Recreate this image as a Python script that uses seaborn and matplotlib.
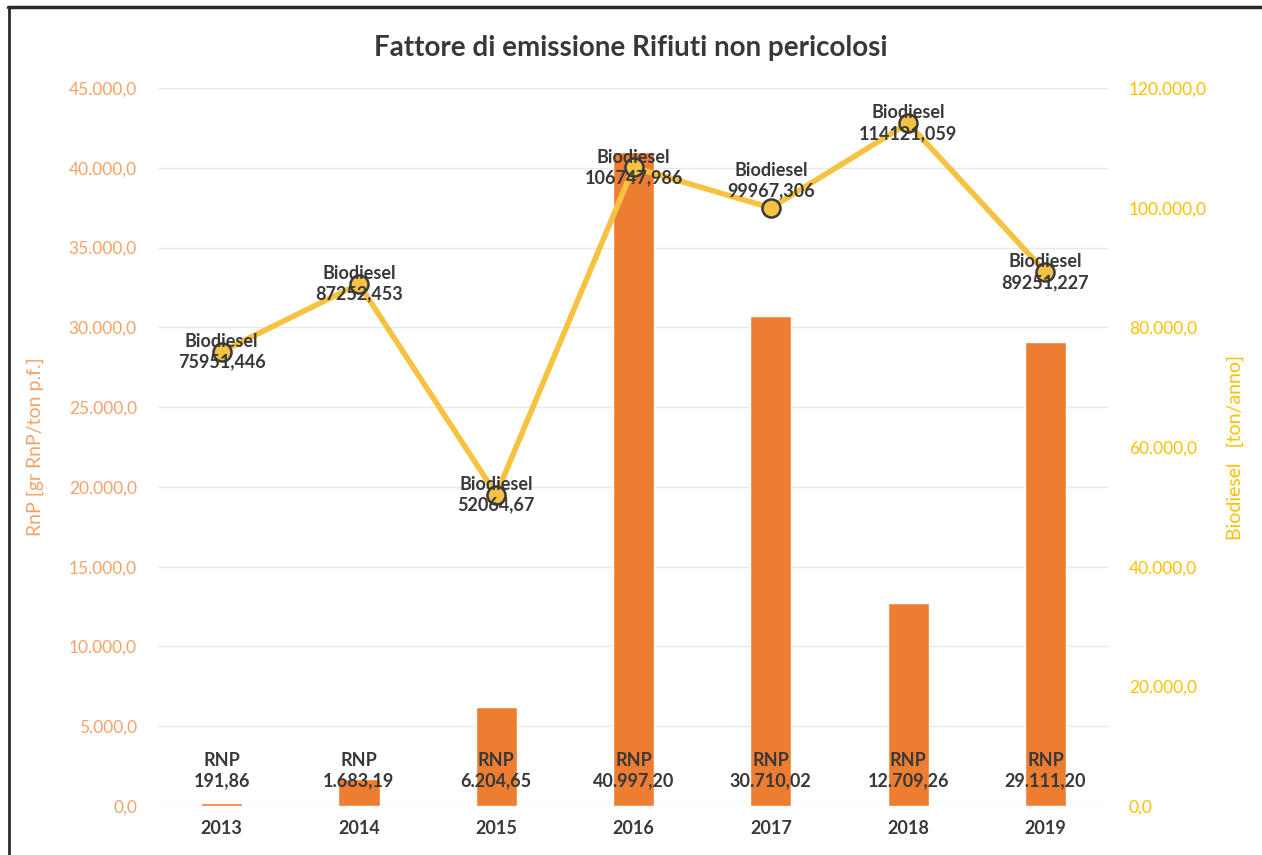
import numpy as np
import pandas as pd
import matplotlib
matplotlib.use("Agg")
import matplotlib.pyplot as plt
from matplotlib.lines import Line2D
from matplotlib.ticker import FuncFormatter, MultipleLocator
import seaborn as sns

anni = ["2013", "2014", "2015", "2016", "2017", "2018", "2019"]
rnp = [191.86, 1683.19, 6204.65, 40997.20, 30710.02, 12709.26, 29111.20]
biodiesel = [75951.446, 87252.453, 52064.67, 106747.986, 99967.306, 114121.059, 89251.227]

titolo = "Fattore di emissione Rifiuti non pericolosi"
etichetta_sx = "RnP [gr RnP/ton p.f.]"
etichetta_dx = "Biodiesel   [ton/anno]"

ARANCIO = "#ED7D31"
ARANCIO_TESTO = "#F4A268"
GIALLO = "#FFC000"
GIALLO_LINEA = "#F5C242"
GRIGIO = "#383838"

sns.set_theme(style="white")
plt.rcParams["font.family"] = ["Lato", "DejaVu Sans"]


def fmt_it(v, dec):
    s = f"{v:,.{dec}f}"
    return s.replace(",", "X").replace(".", ",").replace("X", ".")


df = pd.DataFrame({"anno": anni, "rnp": rnp, "biodiesel": biodiesel})

fig = plt.figure(figsize=(12.62, 8.55), dpi=100)
ax = fig.add_axes([0.125, 0.0573, 0.754, 0.8397])

sns.barplot(data=df, x="anno", y="rnp", color=ARANCIO, saturation=1,
            width=0.3, ax=ax, zorder=2)
ax.set_ylim(0, 45000)
ax.yaxis.set_major_locator(MultipleLocator(5000))
ax.yaxis.set_major_formatter(FuncFormatter(lambda v, p: fmt_it(v, 1)))
ax.grid(axis="y", color="#E8E8E8", linewidth=1.0, zorder=0)
ax.set_axisbelow(True)
for s in ax.spines.values():
    s.set_visible(False)
ax.tick_params(axis="y", colors=ARANCIO_TESTO, labelsize=12.5, length=0, pad=15)
ax.tick_params(axis="x", colors=GRIGIO, labelsize=13, length=0, pad=10)
for lab in ax.get_xticklabels():
    lab.set_fontweight("bold")
ax.set_xlabel("")
ax.set_ylabel(etichetta_sx, color=ARANCIO_TESTO, fontsize=14, labelpad=18)

for i, v in enumerate(rnp):
    ax.text(i, 2200, f"RNP\n{fmt_it(v, 2)}", ha="center", va="center",
            fontsize=13, fontweight="bold", color=GRIGIO, linespacing=1.25,
            zorder=5)

ax2 = ax.twinx()
pos = np.arange(len(anni))
sns.lineplot(x=pos, y=biodiesel, ax=ax2, color=GIALLO_LINEA, linewidth=4,
             marker="o", markersize=13, markerfacecolor=GIALLO_LINEA,
             markeredgecolor="#3a3a3a", markeredgewidth=1.8, zorder=3)
ax2.set_ylim(0, 120000)
ax2.set_xlim(ax.get_xlim())
ax2.yaxis.set_major_locator(MultipleLocator(20000))
ax2.yaxis.set_major_formatter(FuncFormatter(lambda v, p: fmt_it(v, 1)))
for s in ax2.spines.values():
    s.set_visible(False)
ax2.tick_params(axis="y", colors=GIALLO, labelsize=12.5, length=0, pad=14)
ax2.set_ylabel(etichetta_dx, color=GIALLO, fontsize=14, labelpad=14,
               rotation=90)
ax2.grid(False)

offsets = [0, 0, 0, 0, 4500, 0, 0]
for i, v in enumerate(biodiesel):
    num = f"{v:.6f}".rstrip("0").rstrip(".").replace(".", ",")
    ax2.text(i, v + offsets[i], f"Biodiesel\n{num}", ha="center",
             va="center", fontsize=13, fontweight="bold", color=GRIGIO,
             linespacing=1.25, zorder=6)

fig.text(0.5, 0.944, titolo, ha="center", va="center", fontsize=20,
         fontweight="bold", color=GRIGIO)

# cornice esterna
fig.add_artist(Line2D([0.006, 1.0], [0.992, 0.992], transform=fig.transFigure,
                      color="#2a2a2a", linewidth=2.5))
fig.add_artist(Line2D([0.007, 0.007], [0.0, 0.992], transform=fig.transFigure,
                      color="#2a2a2a", linewidth=2.0))

fig.savefig("out.png", dpi=100)
